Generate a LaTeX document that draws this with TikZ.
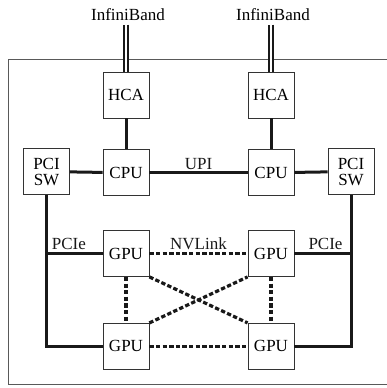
\documentclass[tikz,border=0pt]{standalone}
\usepackage{fontspec}
\setmainfont{Liberation Serif}
\usetikzlibrary{positioning}

\begin{document}
\begin{tikzpicture}[
  x=1pt, y=-1pt,
  font=\fontsize{17}{19}\selectfont,
  unit/.style={rectangle, draw=black!80, line width=0.8pt, minimum size=46pt, inner sep=1pt, align=center},
  bus/.style={line width=3pt, black!90},
  nvlink/.style={line width=3.2pt, black!90, dash pattern=on 4.3pt off 2.3pt},
  ib/.style={line width=2.6pt, double=white, double distance=1.5pt, black!90},
  frame/.style={draw=black!65, line width=0.9pt},
  lbl/.style={inner sep=2pt}
]
\useasboundingbox (0,0) rectangle (387,388);
% ----- enclosure -----
\draw[frame] (8,59) rectangle (392,384);
% ----- host side -----
\node[unit] (hcaL) at (126,95) {HCA};
\node[unit] (hcaR) at (271,95) {HCA};
\node[unit, below=31pt of hcaL] (cpuL) {CPU};
\node[unit, below=31pt of hcaR] (cpuR) {CPU};
\node[unit] (pciL) at (46.5,171.5) {PCI\\[-3pt]SW};
\node[unit] (pciR) at (351,171.5) {PCI\\[-3pt]SW};
\node (ibL) at (128,15) {InfiniBand};
\node (ibR) at (273,15) {InfiniBand};
% ----- GPUs -----
\node[unit] (gpuA) at (126,253.5) {GPU};
\node[unit] (gpuB) at (271,253.5) {GPU};
\node[unit, below=46pt of gpuA] (gpuC) {GPU};
\node[unit, below=46pt of gpuB] (gpuD) {GPU};
% ----- links -----
\draw[ib] (ibL.south -| hcaL) -- (hcaL);
\draw[ib] (ibR.south -| hcaR) -- (hcaR);
\draw[bus] (hcaL) -- (cpuL);
\draw[bus] (hcaR) -- (cpuR);
\draw[bus] (cpuL) -- (cpuR) node[midway, above, lbl] {UPI};
\draw[bus] (pciL) -- (cpuL);
\draw[bus] (cpuR) -- (pciR);
\draw[bus] (pciL) |- (gpuC);
\draw[bus] (pciR) |- (gpuD);
\draw[bus] (pciL |- gpuA) -- (gpuA) node[pos=0.4, above, lbl] {PCIe};
\draw[bus] (pciR |- gpuB) -- (gpuB) node[pos=0.45, above, lbl] {PCIe};
\draw[nvlink] (gpuA) -- (gpuB) node[midway, above, lbl] {NVLink};
\draw[nvlink] (gpuC) -- (gpuD);
\draw[nvlink] (gpuA) -- (gpuC);
\draw[nvlink] (gpuB) -- (gpuD);
\draw[nvlink] (gpuA.south east) -- (gpuD.north west);
\draw[nvlink] (gpuC.north east) -- (gpuB.south west);
\end{tikzpicture}
\end{document}
